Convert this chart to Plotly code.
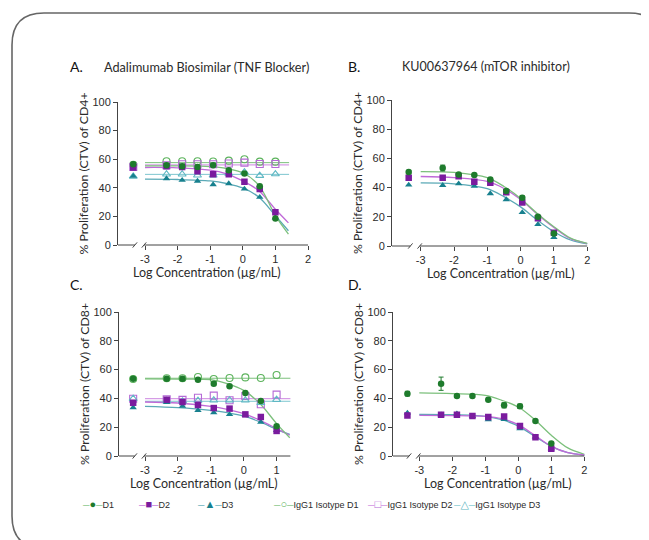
import plotly.graph_objects as go

# browser body margin offsets the figure by 8px, so the figure is sized to fit the window
OX, OY = 8, 8
FW, FH = 641, 532


def fx(px):
    return (px - OX) / FW


def fy(py):
    return 1 - (py - OY) / FH


# ---------------- data ----------------
# log10 concentration (µg/mL); first entry is the untreated control plotted left of the axis break
x_pts = [-3.36, -2.34, -1.86, -1.39, -0.91, -0.43, 0.05, 0.52, 1.0]
x_fit_short = [-3, -2, -1, -0.5, 0, 0.5, 1, 1.4]
x_fit_long = [-3, -2, -1, -0.5, 0, 0.5, 1, 1.5, 2]
x_iso = [-3, 1.42]

x_ticks_AB = [-3, -2, -1, 0, 1, 2]
x_ticks_C = [-3, -2, -1, 0, 1]
y_ticks = [0, 20, 40, 60, 80, 100]

# Panel A: Adalimumab biosimilar, CD4+
A_D1 = [56.5, 55.8, 55.0, 54.6, 55.8, 52.3, 50.0, 41.0, 18.5]
A_D2 = [54.2, 55.0, 54.6, 51.6, 49.5, 49.5, 44.3, 39.2, 22.9]
A_D3 = [48.1, 46.5, 45.3, 44.7, 42.3, 43.0, 39.2, 33.4, 19.0]
A_I1 = [56.0, 58.6, 58.6, 58.6, 58.4, 59.0, 60.0, 58.3, 58.3]
A_I2 = [54.5, 55.8, 56.5, 56.5, 56.5, 57.0, 57.6, 56.6, 56.6]
A_I3 = [48.0, 49.5, 49.5, 48.8, 48.8, 50.0, 51.0, 48.5, 49.6]
A_I1_line = [57.6, 57.6]
A_I2_line = [56.0, 56.0]
A_I3_line = [49.4, 49.4]
A_D1_fit = [55.3, 55.3, 54.8, 53.5, 50.5, 41.5, 20.5, 7.6]
A_D2_fit = [54.2, 54.0, 52.4, 49.8, 44.8, 37.8, 25.0, 15.5]
A_D3_fit = [46.0, 45.8, 44.8, 43.0, 39.9, 33.4, 20.5, 10.0]

# Panel B: KU00637964, CD4+
B_D1 = [50.7, 53.4, 49.0, 48.6, 45.5, 37.7, 33.0, 20.0, 8.6]
B_D1_err = [1.0, 2.0, 0.6, 0.5, 0.8, 0.8, 1.2, 0.8, 0.6]
B_D2 = [46.8, 46.8, 47.7, 44.0, 43.4, 36.8, 29.8, 19.0, 9.1]
B_D3 = [41.8, 41.6, 42.7, 41.0, 35.9, 31.8, 23.0, 14.8, 5.9]
B_D1_fit = [51.0, 50.4, 46.8, 40.8, 32.6, 22.3, 13.2, 5.4, 1.8]
B_D2_fit = [47.6, 46.8, 44.2, 39.4, 31.8, 21.8, 12.7, 5.0, 1.7]
B_D3_fit = [43.2, 42.6, 39.3, 33.8, 26.8, 17.8, 9.8, 4.1, 1.4]

# Panel C: Adalimumab biosimilar, CD8+
C_D1 = [53.7, 53.7, 53.7, 53.0, 50.2, 48.4, 43.8, 38.2, 20.6]
C_D2 = [37.0, 39.1, 37.5, 35.4, 33.3, 32.9, 28.9, 27.1, 17.4]
C_D3 = [33.6, 37.3, 34.7, 31.7, 30.1, 28.9, 28.2, 23.6, 17.8]
C_I1 = [53.5, 54.0, 54.0, 54.9, 53.5, 54.2, 54.6, 54.2, 56.3]
C_I2 = [39.8, 39.4, 39.0, 40.5, 41.9, 38.7, 41.7, 35.9, 42.6]
C_I3 = [39.8, 38.2, 38.0, 38.5, 38.7, 38.7, 38.7, 37.0, 39.1]
C_I1_line = [54.0, 54.0]
C_I2_line = [39.8, 39.8]
C_I3_line = [38.0, 38.0]
C_D1_fit = [53.5, 53.4, 53.0, 50.3, 45.6, 36.3, 22.5, 12.7]
C_D2_fit = [37.5, 36.8, 34.5, 32.4, 29.4, 24.8, 19.0, 14.4]
C_D3_fit = [34.5, 33.6, 31.7, 30.1, 27.8, 23.6, 18.5, 15.0]

# Panel D: KU00637964, CD8+
D_D1 = [43.3, 50.2, 41.7, 41.7, 39.1, 35.2, 34.5, 24.3, 8.6]
D_D1_err = [1.6, 4.6, 0.5, 0.5, 0.5, 1.8, 1.5, 0.8, 0.8]
D_D2 = [28.2, 28.7, 28.7, 27.8, 27.1, 27.5, 20.8, 13.0, 5.1]
D_D3 = [29.9, 28.7, 29.4, 27.5, 25.2, 25.5, 19.0, 13.2, 5.1]
D_D1_fit = [43.8, 43.3, 42.1, 38.7, 34.0, 25.2, 14.4, 5.6, 1.2]
D_D2_fit = [28.2, 28.1, 27.5, 25.9, 21.8, 14.4, 6.7, 2.3, 0.7]
D_D3_fit = [28.9, 28.7, 27.5, 25.2, 20.8, 13.7, 6.7, 2.3, 0.7]

legend_names = ["D1", "D2", "D3", "IgG1 Isotype D1", "IgG1 Isotype D2", "IgG1 Isotype D3"]

# ---------------- styles ----------------
MK = {"D1": "#1e7b2c", "D2": "#7a1b9e", "D3": "#17808e",
      "I1": "#5cb35c", "I2": "#b56ad6", "I3": "#5fb8c4"}
LN = {"D1": "#7cc07c", "D2": "#c06ad8", "D3": "#5aa9b6",
      "I1": "#7cc07c", "I2": "#cc85e0", "I3": "#7cc6cf"}
SYM = {"D1": "circle", "D2": "square", "D3": "triangle-up",
       "I1": "circle-open", "I2": "square-open", "I3": "triangle-up-open"}
GLYPH = {"D1": "●", "D2": "■", "D3": "▲", "I1": "○", "I2": "□", "I3": "△"}
AX = "#444444"
TXT = "#2b2b2b"
FONT_T = "Lato, 'Liberation Sans', sans-serif"
FONT_N = "'Liberation Sans', Arial, 'DejaVu Sans', sans-serif"

# panel geometry (pixels): y-axis x, px of x=-3, px per log unit, x-axis end, top px, bottom px
panels = {
    "A": dict(ax0=118, p3=145.0, unit=32.6, xmax=2.0, top=102, bot=245, ticks=x_ticks_AB, tx=207),
    "B": dict(ax0=392, p3=420.7, unit=33.3, xmax=2.0, top=100, bot=246, ticks=x_ticks_AB, tx=501),
    "C": dict(ax0=119, p3=145.0, unit=32.9, xmax=1.42, top=312, bot=456, ticks=x_ticks_C, tx=204),
    "D": dict(ax0=393, p3=419.3, unit=33.0, xmax=2.0, top=312, bot=456, ticks=x_ticks_AB, tx=498),
}
axis_ids = {"A": ("x", "y"), "B": ("x2", "y2"), "C": ("x3", "y3"), "D": ("x4", "y4")}

fig = go.Figure()


def add_line(p, xs, ys, key, width=1.3):
    xa, ya = axis_ids[p]
    fig.add_trace(go.Scatter(x=xs, y=ys, mode="lines", xaxis=xa, yaxis=ya,
                             line=dict(color=LN[key], width=width, shape="spline", smoothing=0.9),
                             showlegend=False, hoverinfo="skip"))


def add_pts(p, ys, key, err=None):
    xa, ya = axis_ids[p]
    open_ = key.startswith("I")
    m = dict(symbol=SYM[key], color=MK[key], size=6.5 if not open_ else 7,
             line=dict(color=MK[key], width=1.1 if open_ else 0))
    kw = {}
    if err is not None:
        kw["error_y"] = dict(type="data", array=err, color=MK[key], thickness=1, width=2.5)
    fig.add_trace(go.Scatter(x=x_pts, y=ys, mode="markers", xaxis=xa, yaxis=ya, marker=m,
                             showlegend=False, **kw))


# Panel A
add_line("A", x_iso, A_I1_line, "I1", 1.0)
add_line("A", x_iso, A_I2_line, "I2", 1.0)
add_line("A", x_iso, A_I3_line, "I3", 1.0)
add_line("A", x_fit_short, A_D3_fit, "D3")
add_line("A", x_fit_short, A_D2_fit, "D2")
add_line("A", x_fit_short, A_D1_fit, "D1")
for k, v in [("I1", A_I1), ("I2", A_I2), ("I3", A_I3), ("D3", A_D3), ("D2", A_D2), ("D1", A_D1)]:
    add_pts("A", v, k)

# Panel B
add_line("B", x_fit_long, B_D3_fit, "D3")
add_line("B", x_fit_long, B_D2_fit, "D2")
add_line("B", x_fit_long, B_D1_fit, "D1")
add_pts("B", B_D3, "D3")
add_pts("B", B_D2, "D2")
add_pts("B", B_D1, "D1", B_D1_err)

# Panel C
add_line("C", x_iso, C_I1_line, "I1", 1.0)
add_line("C", x_iso, C_I2_line, "I2", 1.0)
add_line("C", x_iso, C_I3_line, "I3", 1.0)
add_line("C", x_fit_short, C_D3_fit, "D3")
add_line("C", x_fit_short, C_D2_fit, "D2")
add_line("C", x_fit_short, C_D1_fit, "D1")
for k, v in [("I1", C_I1), ("I2", C_I2), ("I3", C_I3), ("D3", C_D3), ("D2", C_D2), ("D1", C_D1)]:
    add_pts("C", v, k)

# Panel D
add_line("D", x_fit_long, D_D3_fit, "D3")
add_line("D", x_fit_long, D_D1_fit, "D1")
add_line("D", x_fit_long, D_D2_fit, "D2")
add_pts("D", D_D3, "D3")
add_pts("D", D_D2, "D2")
add_pts("D", D_D1, "D1", D_D1_err)

layout = dict(width=FW, height=FH, margin=dict(l=0, r=0, t=0, b=0, autoexpand=False),
              paper_bgcolor="white", plot_bgcolor="white", showlegend=False)

shapes = []
annotations = []


def pxX(g, v):
    return g["p3"] + (v + 3) * g["unit"]


for p, g in panels.items():
    xa, ya = axis_ids[p]
    n = xa[1:] or ""
    xmin = -3 - (g["p3"] - g["ax0"]) / g["unit"]
    right_px = pxX(g, g["xmax"]) + 1.5
    xmax_r = g["xmax"] + 1.5 / g["unit"]
    layout["xaxis" + n] = dict(domain=[fx(g["ax0"]), fx(right_px)], range=[xmin, xmax_r],
                               anchor=ya, showline=False, showgrid=False, zeroline=False,
                               tickmode="array", tickvals=g["ticks"], ticktext=[str(t) for t in g["ticks"]],
                               ticks="outside", ticklen=4, tickwidth=1, tickcolor=AX,
                               tickfont=dict(family=FONT_N, size=11, color=TXT))
    layout["yaxis" + n] = dict(domain=[fy(g["bot"]), fy(g["top"])], range=[0, 100],
                               anchor=xa, showline=True, linecolor=AX, linewidth=1,
                               showgrid=False, zeroline=False, tickvals=y_ticks,
                               ticks="outside", ticklen=4, tickwidth=1, tickcolor=AX,
                               tickfont=dict(family=FONT_N, size=11, color=TXT))
    # broken x-axis line
    yb = fy(g["bot"])
    brk1 = pxX(g, -3.31)
    brk2 = pxX(g, -3.03)
    endpx = pxX(g, g["xmax"])
    for a, b in [(g["ax0"], brk1), (brk2, endpx)]:
        shapes.append(dict(type="line", xref="paper", yref="paper", x0=fx(a), x1=fx(b), y0=yb, y1=yb,
                           line=dict(color=AX, width=1)))
    for c in [brk1, brk2]:
        shapes.append(dict(type="line", xref="paper", yref="paper",
                           x0=fx(c - 2.2), x1=fx(c + 2.2), y0=yb - 2.6 / FH, y1=yb + 2.6 / FH,
                           line=dict(color=AX, width=1)))
    # axis titles
    cell = "CD4+" if p in "AB" else "CD8+"
    annotations.append(dict(text=f"% Proliferation (CTV) of {cell}", textangle=-90, showarrow=False,
                            xref="paper", yref="paper", x=fx(g["ax0"] - 35),
                            y=fy((g["top"] + g["bot"]) / 2), xanchor="center", yanchor="middle",
                            font=dict(family=FONT_T, size=12.3, color=TXT)))
    annotations.append(dict(text="Log Concentration (µg/mL)", showarrow=False,
                            xref="paper", yref="paper", x=fx(g["tx"]),
                            y=fy(g["bot"] + 27), xanchor="center", yanchor="middle",
                            font=dict(family=FONT_T, size=12.5, color=TXT)))

# panel labels and titles
for txt, x, y, size in [("A.", 68, 67, 14), ("B.", 346, 66, 14), ("C.", 68, 284, 14), ("D.", 346, 284, 14)]:
    annotations.append(dict(text=txt, showarrow=False, xref="paper", yref="paper", x=fx(x), y=fy(y),
                            xanchor="left", yanchor="middle", font=dict(family=FONT_T, size=size, color="#111")))
annotations.append(dict(text="Adalimumab Biosimilar (TNF Blocker)", showarrow=False, xref="paper", yref="paper",
                        x=fx(206), y=fy(67), xanchor="center", yanchor="middle",
                        font=dict(family=FONT_T, size=12.7, color=TXT)))
annotations.append(dict(text="KU00637964 (mTOR inhibitor)", showarrow=False, xref="paper", yref="paper",
                        x=fx(486), y=fy(66), xanchor="center", yanchor="middle",
                        font=dict(family=FONT_T, size=12.5, color=TXT)))

# legend row (text entries with coloured symbol glyphs)
legend_keys = ["D1", "D2", "D3", "I1", "I2", "I3"]
legend_x = [80, 136, 195, 271, 365, 451]
for k, name, lx in zip(legend_keys, legend_names, legend_x):
    sym = (f"<span style='color:{LN[k]}'>─</span>"
           f"<span style='color:{MK[k]};font-size:11px'>{GLYPH[k]}</span>"
           f"<span style='color:{LN[k]}'>─</span>")
    annotations.append(dict(text=sym + name, showarrow=False, xref="paper", yref="paper",
                            x=fx(lx), y=fy(504), xanchor="left", yanchor="middle",
                            font=dict(family=FONT_N, size=9, color=TXT)))

# rounded frame around the figure
L, T, R, B, r = 12, 13, 661, 548, 32


def P(px, py):
    return f"{fx(px):.5f},{fy(py):.5f}"


path = (f"M {P(L + r, T)} L {P(R - r, T)} Q {P(R, T)} {P(R, T + r)} L {P(R, B - r)} "
        f"Q {P(R, B)} {P(R - r, B)} L {P(L + r, B)} Q {P(L, B)} {P(L, B - r)} "
        f"L {P(L, T + r)} Q {P(L, T)} {P(L + r, T)} Z")
shapes.append(dict(type="path", path=path, xref="paper", yref="paper", line=dict(color="#666666", width=1.6)))

layout["shapes"] = shapes
layout["annotations"] = annotations
fig.update_layout(**layout)

fig.write_html("out.html")
